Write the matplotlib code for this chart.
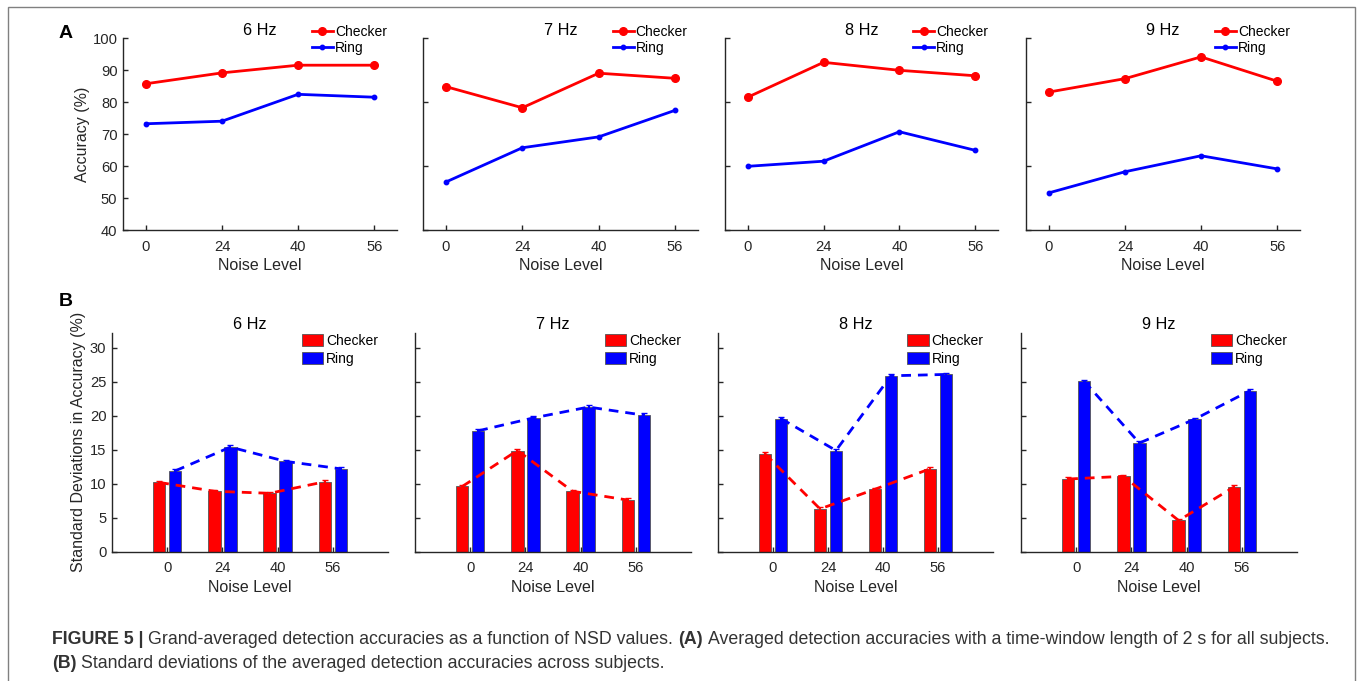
import matplotlib
matplotlib.use("Agg")
import matplotlib.pyplot as plt
from matplotlib import font_manager
from matplotlib.patches import Rectangle
from matplotlib.transforms import IdentityTransform
import numpy as np

# ---------------- data ----------------
noise_levels = ['0', '24', '40', '56']
freqs = ['6 Hz', '7 Hz', '8 Hz', '9 Hz']

acc_checker_6 = [85.7, 89.1, 91.5, 91.5]
acc_ring_6 = [73.2, 74.0, 82.4, 81.5]
acc_checker_7 = [84.8, 78.2, 89.0, 87.4]
acc_ring_7 = [55.0, 65.7, 69.1, 77.4]
acc_checker_8 = [81.5, 92.4, 89.9, 88.2]
acc_ring_8 = [59.9, 61.5, 70.7, 64.9]
acc_checker_9 = [83.1, 87.3, 94.1, 86.5]
acc_ring_9 = [51.6, 58.2, 63.2, 59.1]

sd_checker_6 = [10.2, 8.9, 8.6, 10.3]
sd_ring_6 = [11.9, 15.4, 13.3, 12.2]
sd_checker_7 = [9.6, 14.9, 8.9, 7.6]
sd_ring_7 = [17.8, 19.7, 21.3, 20.1]
sd_checker_8 = [14.4, 6.3, 9.2, 12.2]
sd_ring_8 = [19.6, 14.9, 25.9, 26.1]
sd_checker_9 = [10.7, 11.1, 4.6, 9.5]
sd_ring_9 = [25.1, 16.0, 19.5, 23.7]

sd_err = [0.25, 0.25, 0.25, 0.25]

acc_checker = [acc_checker_6, acc_checker_7, acc_checker_8, acc_checker_9]
acc_ring = [acc_ring_6, acc_ring_7, acc_ring_8, acc_ring_9]
sd_checker = [sd_checker_6, sd_checker_7, sd_checker_8, sd_checker_9]
sd_ring = [sd_ring_6, sd_ring_7, sd_ring_8, sd_ring_9]

caption_line1 = [("FIGURE 5 |", "bold"),
                 ("Grand-averaged detection accuracies as a function of NSD values.", "normal"),
                 ("(A)", "bold"),
                 ("Averaged detection accuracies with a time-window length of 2 s for all subjects.", "normal")]
caption_line2 = [("(B)", "bold"),
                 ("Standard deviations of the averaged detection accuracies across subjects.", "normal")]

# ---------------- style ----------------
names = {f.name for f in font_manager.fontManager.ttflist}
main_font = 'Liberation Sans' if 'Liberation Sans' in names else 'DejaVu Sans'
cap_font = 'Liberation Sans Narrow' if 'Liberation Sans Narrow' in names else main_font
plt.rcParams['font.family'] = [main_font, 'DejaVu Sans']

AX = '#262626'
RED = '#ff0000'
BLUE = '#0000ff'

W, H = 1357, 681
fig = plt.figure(figsize=(W / 100, H / 100), dpi=100)

# outer frame
fig.add_artist(Rectangle((8 / W, -0.02), (1355 - 8) / W, 1.02 - 7 / H,
                         transform=fig.transFigure, fill=False,
                         edgecolor='#808080', lw=1.0))


def fpos(left, right, top, bottom):
    return [left / W, 1 - bottom / H, (right - left) / W, (bottom - top) / H]


def style_axes(ax):
    for s in ['top', 'right']:
        ax.spines[s].set_visible(False)
    for s in ['left', 'bottom']:
        ax.spines[s].set_color(AX)
        ax.spines[s].set_linewidth(1.0)
    ax.tick_params(direction='in', colors=AX, labelsize=10.6, length=3.5, width=1.0)
    ax.tick_params(axis='x', pad=7)
    ax.tick_params(axis='y', pad=4)


A_pos = [(123, 397), (423, 698), (725, 998), (1026, 1300)]
B_pos = [(112, 388), (415, 691), (718, 993), (1021, 1297)]
x = np.arange(1, 5)

# ---------------- panel A ----------------
for i in range(4):
    l, r = A_pos[i]
    ax = fig.add_axes(fpos(l, r, 38, 230))
    style_axes(ax)
    ax.plot(x, acc_checker[i], '-o', color=RED, lw=2.0, ms=5.5, label='Checker')
    ax.plot(x, acc_ring[i], '-o', color=BLUE, lw=2.0, ms=3.2, label='Ring')
    ax.set_xlim(0.7, 4.3)
    ax.set_ylim(40, 100)
    ax.set_xticks(x)
    ax.set_xticklabels(noise_levels)
    if i == 0:
        ax.set_yticks(np.arange(40, 101, 10))
        ax.set_ylabel('Accuracy (%)', fontsize=11.5, color=AX, labelpad=2)
    else:
        ax.set_yticks(np.arange(40, 101, 20))
        ax.set_yticklabels([])
    ax.set_xlabel('Noise Level', fontsize=11.5, color=AX, labelpad=3)
    ax.set_title(freqs[i], fontsize=11.7, color='black', pad=1.5)
    ax.legend(loc='center left', bbox_to_anchor=(0.69, 0.99), frameon=False,
              fontsize=10, borderpad=0, borderaxespad=0, handlelength=1.5,
              handletextpad=0.15, labelspacing=0.12, labelcolor='black')

# ---------------- panel B ----------------
bw = 0.225
off = 0.145
for i in range(4):
    l, r = B_pos[i]
    ax = fig.add_axes(fpos(l, r, 333, 551.7))
    style_axes(ax)
    ax.tick_params(axis='x', pad=6.5)
    ax.bar(x - off, sd_checker[i], width=bw, color=RED, edgecolor='#555555',
           lw=0.6, label='Checker', zorder=2)
    ax.bar(x + off, sd_ring[i], width=bw, color=BLUE, edgecolor='#555555',
           lw=0.6, label='Ring', zorder=2)
    ax.errorbar(x - off, sd_checker[i], yerr=sd_err, color=RED, lw=2.0,
                dashes=(3.5, 2.5), capsize=2, elinewidth=1.5, zorder=3)
    ax.errorbar(x + off, sd_ring[i], yerr=sd_err, color=BLUE, lw=2.0,
                dashes=(3.5, 2.5), capsize=2, elinewidth=1.5, zorder=3)
    ax.set_xlim(0, 5)
    ax.set_ylim(0, 32.2)
    ax.set_xticks(x)
    ax.set_xticklabels(noise_levels)
    ax.set_yticks(np.arange(0, 31, 5))
    if i == 0:
        ax.set_ylabel('Standard Deviations in Accuracy (%)', fontsize=11.5,
                      color=AX, labelpad=3)
    else:
        ax.set_yticklabels([])
    ax.set_xlabel('Noise Level', fontsize=11.5, color=AX, labelpad=3.5)
    ax.set_title(freqs[i], fontsize=11.7, color='black', pad=3)
    ax.legend(loc='center left', bbox_to_anchor=(0.688, 0.923), frameon=False,
              fontsize=10, borderpad=0, borderaxespad=0, handlelength=1.55,
              handleheight=0.92, handletextpad=0.2, labelspacing=0.32,
              labelcolor='black')

# panel letters
fig.text(66 / W, 1 - 33 / H, 'A', fontsize=14, fontweight='bold',
         ha='center', va='center', color='black')
fig.text(66 / W, 1 - 302 / H, 'B', fontsize=14, fontweight='bold',
         ha='center', va='center', color='black')

# ---------------- caption ----------------
renderer = fig.canvas.get_renderer()


def measure(txt, size, weight):
    t = fig.text(0, 0, txt, fontsize=size, fontweight=weight, family=cap_font)
    w = t.get_window_extent(renderer).width
    t.remove()
    return w


def line_width(runs, size):
    sp = measure('a a', size, 'normal') - measure('aa', size, 'normal')
    return sum(measure(t, size, wt) for t, wt in runs) + sp * (len(runs) - 1), sp


# fit caption font size to the reference line width
target = 1333 - 52
size = 11.0
for _ in range(4):
    wl, _sp = line_width(caption_line1, size)
    size *= target / wl


def draw_runs(runs, x0, ycenter, size):
    _w, sp = line_width(runs, size)
    xx = x0
    for t, wt in runs:
        txt = fig.text(xx, ycenter, t, fontsize=size, fontweight=wt, family=cap_font,
                       color='#333333', va='center', ha='left',
                       transform=IdentityTransform())
        xx += txt.get_window_extent(renderer).width + sp


draw_runs(caption_line1, 52, H - 640, size)
draw_runs(caption_line2, 52, H - 663, size)

fig.savefig('out.png', dpi=100)
